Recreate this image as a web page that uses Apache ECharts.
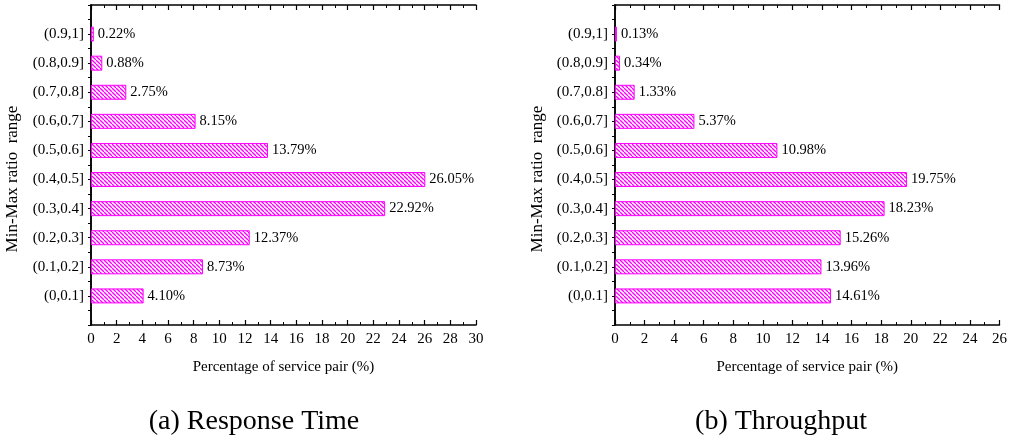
<!DOCTYPE html>
<html>
<head>
<meta charset="utf-8">
<script src="https://cdn.jsdelivr.net/npm/echarts@6/dist/echarts.min.js"></script>
<style>html,body{margin:0;padding:0;background:#fff}#c{width:1010px;height:437px}</style>
</head>
<body>
<div id="c"></div>
<script>
// Data (bottom-to-top order)
const categories = ['(0,0.1]','(0.1,0.2]','(0.2,0.3]','(0.3,0.4]','(0.4,0.5]','(0.5,0.6]','(0.6,0.7]','(0.7,0.8]','(0.8,0.9]','(0.9,1]'];
const responseTime = [4.10, 8.73, 12.37, 22.92, 26.05, 13.79, 8.15, 2.75, 0.88, 0.22];
const throughput = [14.61, 13.96, 15.26, 18.23, 19.75, 10.98, 5.37, 1.33, 0.34, 0.13];
const xTicksA = {min: 0, max: 30, interval: 2};
const xTicksB = {min: 0, max: 26, interval: 2};
const panelTitles = ['(a) Response Time', '(b) Throughput'];
const xName = 'Percentage of service pair (%)';
const yName = 'Min-Max ratio  range';

const FONT = '"Liberation Serif","Times New Roman",serif';
const MAG = '#ff00ff';

function hatch() {
  const s = 4;
  const cv = document.createElement('canvas');
  cv.width = s; cv.height = s;
  const g = cv.getContext('2d');
  g.fillStyle = '#fff'; g.fillRect(0, 0, s, s);
  g.strokeStyle = MAG; g.lineWidth = 1.3;
  for (const o of [-s, 0, s]) {
    g.beginPath(); g.moveTo(o, 0); g.lineTo(o + s, s); g.stroke();
  }
  return cv;
}
const pattern = {image: hatch(), repeat: 'repeat'};

const cats = [''].concat(categories, ['']);
const pad = v => ['-'].concat(v, ['-']);

const grids = [
  {left: 91, width: 385, top: 5, height: 320},
  {left: 615, width: 385, top: 5, height: 320}
];

const axisLine = {show: true, lineStyle: {color: '#000', width: 1.5}};

function xAxes(gi, t) {
  return [
    {type: 'value', gridIndex: gi, position: 'bottom', min: t.min, max: t.max, interval: t.interval,
     name: xName, nameLocation: 'middle', nameGap: 35,
     nameTextStyle: {fontFamily: FONT, fontSize: 15, color: '#000'},
     axisLine: axisLine,
     axisTick: {show: true, inside: true, length: 5, lineStyle: {color: '#000', width: 1.2}},
     minorTick: {show: true, splitNumber: 2, length: 3, lineStyle: {color: '#000', width: 1}},
     axisLabel: {fontFamily: FONT, fontSize: 15, color: '#000', margin: 7},
     splitLine: {show: false}, minorSplitLine: {show: false}},
    {type: 'value', gridIndex: gi, position: 'top', min: t.min, max: t.max, interval: t.interval,
     axisLine: axisLine,
     axisTick: {show: true, inside: true, length: 5, lineStyle: {color: '#000', width: 1.2}},
     minorTick: {show: true, splitNumber: 2, length: 3, lineStyle: {color: '#000', width: 1}},
     axisLabel: {show: false}, splitLine: {show: false}}
  ];
}
function yAxes(gi) {
  return [
    {type: 'category', gridIndex: gi, data: cats, boundaryGap: false, position: 'left',
     axisLine: axisLine, axisTick: {show: false},
     axisLabel: {fontFamily: FONT, fontSize: 15, color: '#000', margin: 7},
     splitLine: {show: false}},
    {type: 'value', gridIndex: gi, position: 'right', min: 0, max: cats.length - 1, interval: 0.5,
     axisLine: axisLine,
     axisTick: {show: true, inside: true, length: 3, lineStyle: {color: '#000', width: 1}},
     axisLabel: {show: false}, splitLine: {show: false}}
  ];
}

function barSeries(xi, yi, vals) {
  return {
    type: 'bar', xAxisIndex: xi, yAxisIndex: yi, data: pad(vals), barWidth: 15,
    itemStyle: {color: pattern, borderColor: MAG, borderWidth: 1},
    label: {show: true, position: 'right', distance: 4, fontFamily: FONT, fontSize: 14.5, color: '#000',
            formatter: p => Number(p.value).toFixed(2) + '%'},
    silent: true, animation: false
  };
}

function yTitle(x) {
  return {type: 'text', x: x, y: 179, rotation: Math.PI / 2,
    style: {text: yName, fontFamily: FONT, fontSize: 17, fill: '#000', align: 'center', verticalAlign: 'middle'}};
}

const chart = echarts.init(document.getElementById('c'), null, {renderer: 'canvas'});
chart.setOption({
  backgroundColor: '#fff',
  animation: false,
  title: [
    {text: panelTitles[0], left: 249, top: 403, textAlign: 'center',
     textStyle: {fontFamily: FONT, fontSize: 28, fontWeight: 'normal', color: '#000'}},
    {text: panelTitles[1], left: 776, top: 403, textAlign: 'center',
     textStyle: {fontFamily: FONT, fontSize: 28, fontWeight: 'normal', color: '#000'}}
  ],
  graphic: [yTitle(13), yTitle(538)],
  grid: grids,
  xAxis: xAxes(0, xTicksA).concat(xAxes(1, xTicksB)),
  yAxis: yAxes(0).concat(yAxes(1)),
  series: [barSeries(0, 0, responseTime), barSeries(2, 2, throughput)]
});
</script>
</body>
</html>
